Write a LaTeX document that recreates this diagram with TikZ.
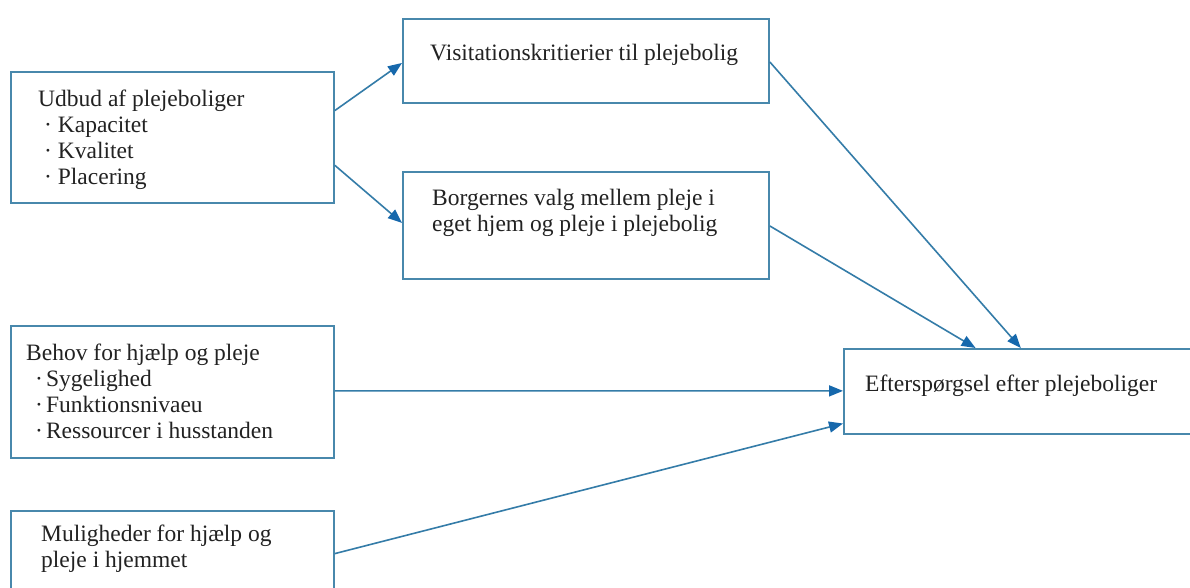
\documentclass[tikz,border=0pt]{standalone}
\usepackage{fontspec}
\setmainfont{Liberation Serif}
\usetikzlibrary{arrows.meta,calc}
\definecolor{boxc}{RGB}{72,136,172}
\definecolor{linec}{RGB}{52,124,168}
\definecolor{tipc}{RGB}{22,104,172}
\definecolor{txtc}{RGB}{34,34,34}
\begin{document}
\begin{tikzpicture}[x=1pt,y=-1pt,
  box/.style={draw=boxc, line width=1.8pt, rectangle, inner sep=0pt, anchor=north west},
  lbl/.style={anchor=north west, inner sep=0pt, align=left, text=txtc, font=\fontsize{23.5}{26}\selectfont},
  conn/.style={draw=linec, line width=1.6pt, -{Triangle[length=14pt,width=11pt,color=tipc]}}
]
\useasboundingbox (0,0) rectangle (1190,587);
\clip (0,0) rectangle (1190,587);
\fill[white] (0,0) rectangle (1190,587);

% boxes
\node[box, minimum width=323pt, minimum height=131pt] (udbud) at (10,71) {};
\node[box, minimum width=366pt, minimum height=84pt] (visit) at (402,18) {};
\node[box, minimum width=366pt, minimum height=107pt] (borg) at (402,171) {};
\node[box, minimum width=323pt, minimum height=132pt] (behov) at (10,325) {};
\node[box, minimum width=323pt, minimum height=110pt] (mulig) at (10,510) {};
\node[box, minimum width=400pt, minimum height=85pt] (eft) at (843,348) {};

% texts
\node[lbl] (udbudT) at (38,90) {Udbud af plejeboliger\\\hspace*{6pt}· Kapacitet\\\hspace*{6pt}· Kvalitet\\\hspace*{6pt}· Placering};
\node[lbl] (visitT) at (430,44) {Visitationskritierier til plejebolig};
\node[lbl] (borgT) at (432,189) {Borgernes valg mellem pleje i\\eget hjem og pleje i plejebolig};
\node[lbl] (behovT) at (26,344) {Behov for hjælp og pleje\\\hspace*{9pt}·\hspace{3pt}Sygelighed\\\hspace*{9pt}·\hspace{3pt}Funktionsnivaeu\\\hspace*{9pt}·\hspace{3pt}Ressourcer i husstanden};
\node[lbl] (muligT) at (41,525) {Muligheder for hjælp og\\pleje i hjemmet};
\node[lbl] (eftT) at (865,375) {Efterspørgsel efter plejeboliger};

% connectors
\draw[conn] ($(udbud.north east)!0.298!(udbud.south east)$) -- ($(visit.north west)!0.524!(visit.south west)$);
\draw[conn] ($(udbud.north east)!0.71!(udbud.south east)$) -- ($(borg.north west)!0.477!(borg.south west)$);
\draw[conn] ($(visit.north east)!0.512!(visit.south east)$) -- ($(eft.north west)!0.4425!(eft.north east)$);
\draw[conn] ($(borg.north east)!0.505!(borg.south east)$) -- ($(eft.north west)!0.33!(eft.north east)$);
\draw[conn] ($(behov.north east)!0.492!(behov.south east)$) -- ($(eft.north west)!0.494!(eft.south west)$);
\draw[conn] ($(mulig.north east)!0.39!(mulig.south east)$) -- ($(eft.north west)!0.87!(eft.south west)$);
\end{tikzpicture}
\end{document}
